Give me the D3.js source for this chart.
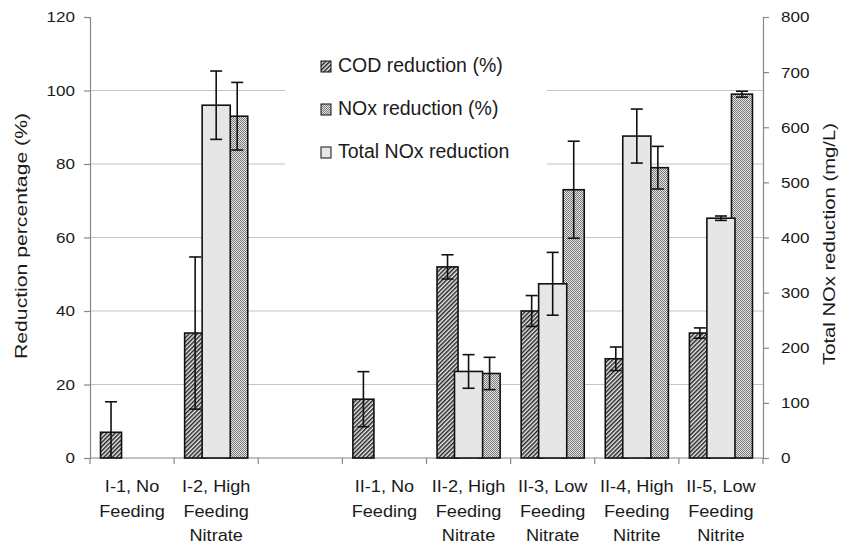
<!DOCTYPE html>
<html>
<head>
<meta charset="utf-8">
<script src="https://cdn.jsdelivr.net/npm/d3@7"></script>
<style>
  body { margin: 0; background: #fff; }
  svg { font-family: "Liberation Sans", Arial, sans-serif; }
</style>
</head>
<body>
<svg width="842" height="545"></svg>
<script>
// categories (one empty slot between the two runs)
const categories = ["I-1", "I-2", "gap", "II-1", "II-2", "II-3", "II-4", "II-5"];
const catLabels = [
  ["I-1, No", "Feeding"],
  ["I-2, High", "Feeding", "Nitrate"],
  [],
  ["II-1, No", "Feeding"],
  ["II-2, High", "Feeding", "Nitrate"],
  ["II-3, Low", "Feeding", "Nitrate"],
  ["II-4, High", "Feeding", "Nitrite"],
  ["II-5, Low", "Feeding", "Nitrite"]
];

// left axis series (%)
const codPct = [7, 34, null, 16, 52, 40, 27, 34];
const codErr = [8.3, 20.7, null, 7.5, 3.3, 4.2, 3.2, 1.4];
const noxPct = [null, 93, null, null, 23, 73, 79, 99];
const noxErr = [null, 9.2, null, null, 4.4, 13.2, 5.8, 0.8];

// right axis series (mg/L)
const totalNox = [null, 640, null, null, 157, 316, 584, 435];
const totalErr = [null, 62, null, null, 30.5, 57, 49, 4];

const leftTicks = [0, 20, 40, 60, 80, 100, 120];
const rightTicks = [0, 100, 200, 300, 400, 500, 600, 700, 800];
const legendItems = ["COD reduction (%)", "NOx reduction (%)", "Total NOx reduction"];

const svg = d3.select("svg");

const x = d3.scaleBand().domain(categories).range([90, 763]);
const yL = d3.scaleLinear().domain([0, 120]).range([458, 17]);
const yR = d3.scaleLinear().domain([0, 800]).range([458, 17]);
const bw = x.bandwidth();

// patterns
const defs = svg.append("defs");
const hatch = defs.append("pattern")
  .attr("id", "hatch")
  .attr("patternUnits", "userSpaceOnUse")
  .attr("width", 3).attr("height", 3)
  .attr("patternTransform", "rotate(45)");
hatch.append("rect").attr("width", 3).attr("height", 3).attr("fill", "#eeeeee");
hatch.append("rect").attr("width", 1.5).attr("height", 3).attr("fill", "#222");

const check = defs.append("pattern")
  .attr("id", "check")
  .attr("patternUnits", "userSpaceOnUse")
  .attr("width", 2).attr("height", 2);
check.append("rect").attr("width", 2).attr("height", 2).attr("fill", "#e4e4e4");
check.append("rect").attr("width", 1).attr("height", 1).attr("fill", "#7a7a7a");
check.append("rect").attr("x", 1).attr("y", 1).attr("width", 1).attr("height", 1).attr("fill", "#7a7a7a");

// stretch helper: the source text runs wider than its font
function widen(sel, k) {
  sel.each(function() {
    const w = this.getComputedTextLength();
    d3.select(this).attr("textLength", w * k).attr("lengthAdjust", "spacingAndGlyphs");
  });
}

// gridlines
svg.append("g").selectAll("line")
  .data(leftTicks.filter(t => t > 0 && t < 120))
  .enter().append("line")
  .attr("x1", 90).attr("x2", 763)
  .attr("y1", d => yL(d)).attr("y2", d => yL(d))
  .attr("stroke", "#c4c4c4").attr("stroke-width", 1.2);

// legend box (white, hides gridlines)
const legend = svg.append("g");
legend.append("rect")
  .attr("x", 285).attr("y", 30).attr("width", 262).attr("height", 150)
  .attr("fill", "#fff");
const fills = ["url(#hatch)", "url(#check)", "#e6e6e6"];
legendItems.forEach((t, i) => {
  const yb = 72 + i * 43;
  legend.append("rect")
    .attr("x", 321).attr("y", yb - 11).attr("width", 10).attr("height", 11)
    .attr("fill", fills[i]).attr("stroke", "#111").attr("stroke-width", 1);
  legend.append("text")
    .attr("x", 338).attr("y", yb)
    .attr("font-size", 19.5).attr("fill", "#1a1a1a")
    .text(t);
});

// axes
const axisColor = "#888";
const axL = svg.append("g").attr("transform", "translate(90,0)")
  .call(d3.axisLeft(yL).tickValues(leftTicks).tickSize(6).tickPadding(9));
const axR = svg.append("g").attr("transform", "translate(763,0)")
  .call(d3.axisRight(yR).tickValues(rightTicks).tickSize(6).tickPadding(12));
[axL, axR].forEach(a => {
  a.select(".domain").attr("stroke", axisColor).attr("stroke-width", 1.2);
  a.selectAll(".tick line").attr("stroke", axisColor).attr("stroke-width", 1.2);
  a.selectAll(".tick text").attr("font-size", 15.5).attr("fill", "#1a1a1a")
    .attr("font-family", "Liberation Sans, Arial, sans-serif");
  widen(a.selectAll(".tick text"), 1.1);
});

// category axis
const bottom = svg.append("g");
bottom.append("line")
  .attr("x1", 90).attr("x2", 763).attr("y1", 458).attr("y2", 458)
  .attr("stroke", axisColor).attr("stroke-width", 1.2);
bottom.selectAll(".cat-tick")
  .data(categories.concat(["end"]))
  .enter().append("line")
  .attr("class", "cat-tick")
  .attr("x1", (d, i) => i < categories.length ? x(d) : x.range()[1])
  .attr("x2", (d, i) => i < categories.length ? x(d) : x.range()[1])
  .attr("y1", 458).attr("y2", 464)
  .attr("stroke", axisColor).attr("stroke-width", 1.2);

categories.forEach((c, i) => {
  const lbl = bottom.append("text")
    .attr("text-anchor", "middle")
    .attr("font-size", 16.2).attr("fill", "#1a1a1a");
  catLabels[i].forEach((line, j) => {
    lbl.append("tspan")
      .attr("x", x(c) + bw / 2)
      .attr("y", 492 + j * 24.5)
      .text(line);
  });
  lbl.selectAll("tspan").each(function() {
    const w = this.getComputedTextLength();
    d3.select(this).attr("textLength", w * 1.12).attr("lengthAdjust", "spacingAndGlyphs");
  });
});

// axis titles
svg.append("text")
  .attr("transform", "translate(27,236) rotate(-90)")
  .attr("text-anchor", "middle")
  .attr("font-size", 16.5).attr("fill", "#1a1a1a")
  .attr("textLength", 246).attr("lengthAdjust", "spacingAndGlyphs")
  .text("Reduction percentage (%)");
svg.append("text")
  .attr("transform", "translate(835,244) rotate(-90)")
  .attr("text-anchor", "middle")
  .attr("font-size", 16.5).attr("fill", "#1a1a1a")
  .attr("textLength", 242).attr("lengthAdjust", "spacingAndGlyphs")
  .text("Total NOx reduction (mg/L)");

// bars
const rows = categories.map((c, i) => ({
  c, cod: codPct[i], codE: codErr[i], nox: noxPct[i], noxE: noxErr[i],
  tot: totalNox[i], totE: totalErr[i]
}));

const barG = svg.append("g");
function bars(key, scale, fill, off, wid) {
  barG.selectAll(".b-" + key)
    .data(rows.filter(d => d[key] != null))
    .enter().append("rect")
    .attr("class", "b-" + key)
    .attr("x", d => x(d.c) + off * bw)
    .attr("width", wid * bw)
    .attr("y", d => scale(d[key]))
    .attr("height", d => scale(0) - scale(d[key]))
    .attr("fill", fill)
    .attr("stroke", "#111").attr("stroke-width", 1.6);
}
bars("cod", yL, "url(#hatch)", 0.125, 0.25);
bars("nox", yL, "url(#check)", 0.625, 0.25);
bars("tot", yR, "#e6e6e6", 0.333, 0.334);

// error bars
const errG = svg.append("g").attr("stroke", "#111").attr("stroke-width", 1.6);
function errors(key, ekey, scale, center) {
  rows.filter(d => d[key] != null).forEach(d => {
    const cx = x(d.c) + center * bw;
    const hi = d[key] + d[ekey];
    const lo = Math.max(0, d[key] - d[ekey]);
    errG.append("line").attr("x1", cx).attr("x2", cx)
      .attr("y1", scale(hi)).attr("y2", scale(lo));
    errG.append("line").attr("x1", cx - 6).attr("x2", cx + 6)
      .attr("y1", scale(hi)).attr("y2", scale(hi));
    if (d[key] - d[ekey] > 0) {
      errG.append("line").attr("x1", cx - 6).attr("x2", cx + 6)
        .attr("y1", scale(lo)).attr("y2", scale(lo));
    }
  });
}
errors("cod", "codE", yL, 0.25);
errors("nox", "noxE", yL, 0.75);
errors("tot", "totE", yR, 0.5);
</script>
</body>
</html>
